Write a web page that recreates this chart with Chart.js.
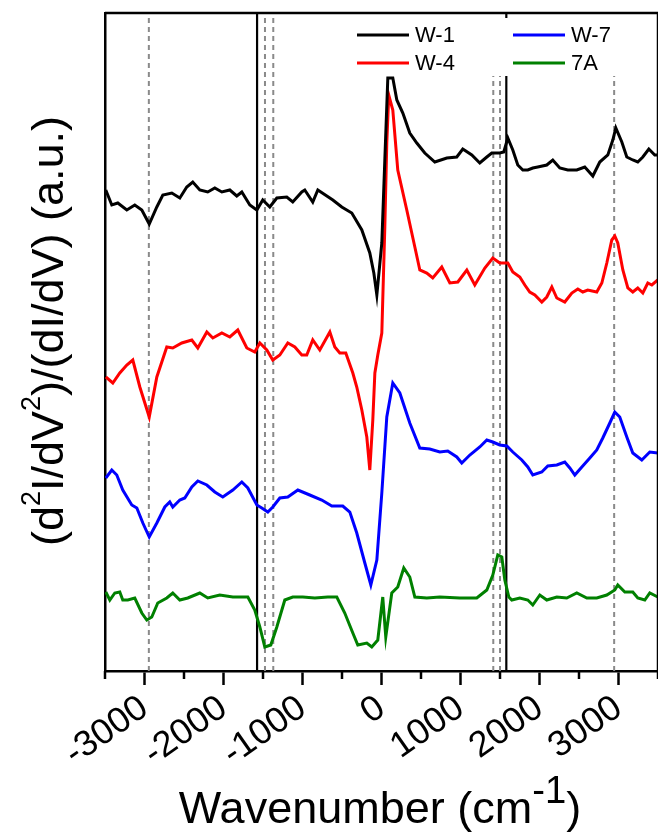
<!DOCTYPE html>
<html>
<head>
<meta charset="utf-8">
<script src="https://cdn.jsdelivr.net/npm/chart.js@4.4.1/dist/chart.umd.min.js"></script>
<style>
  html, body { margin: 0; padding: 0; background: #fff; }
  #wrap { width: 658px; height: 834px; }
</style>
</head>
<body>
<div id="wrap"><canvas id="stsChart" width="658" height="834"></canvas></div>
<script>
// Ejes
const xMin = -3500, xMax = 3500;
const yMin = 0, yMax = 6.58;
const xTickStep = 500;
const xLabelStep = 1000;

const seriesNames = ['W-1', 'W-4', 'W-7', '7A'];
const seriesColors = ['#000000', '#ff0000', '#0000ff', '#008000'];

// W-1
const w1Wave = [-3490,-3414,-3338,-3224,-3123,-3034,-2940,-2844,-2768,-2654,-2553,-2465,-2389,-2300,-2199,-2110,-2021,-1920,-1832,-1768,-1667,-1578,-1503,-1414,-1325,-1199,-1123,-1009,-971,-870,-806,-616,-503,-376,-249,-148,-97,-59,4,42,80,143,194,270,358,447,548,675,827,953,1029,1143,1244,1333,1396,1497,1548,1599,1662,1725,1789,1852,1915,1978,2092,2168,2257,2358,2472,2573,2675,2763,2865,2928,2966,3042,3105,3181,3244,3308,3384,3459,3497];
const w1Val = [4.81,4.66,4.68,4.61,4.66,4.61,4.47,4.64,4.76,4.78,4.73,4.84,4.89,4.81,4.79,4.83,4.79,4.81,4.75,4.79,4.66,4.61,4.71,4.64,4.73,4.74,4.69,4.79,4.81,4.69,4.81,4.71,4.64,4.58,4.41,4.18,3.98,3.76,4.28,5.11,5.93,5.93,5.71,5.58,5.38,5.28,5.18,5.09,5.13,5.14,5.22,5.16,5.08,5.14,5.18,5.18,5.19,5.33,5.21,5.06,5.01,5.01,5.03,5.04,5.06,5.11,5.03,5.01,5.01,5.04,4.95,5.09,5.16,5.31,5.43,5.29,5.14,5.11,5.09,5.14,5.22,5.16,5.16];

// W-4
const w4Wave = [-3490,-3401,-3313,-3224,-3148,-3059,-2940,-2844,-2718,-2642,-2528,-2401,-2325,-2211,-2135,-2021,-1920,-1819,-1705,-1604,-1540,-1452,-1376,-1287,-1186,-1097,-1009,-946,-870,-781,-654,-591,-528,-452,-363,-313,-249,-186,-148,-110,-84,-47,4,42,67,92,143,206,320,422,485,573,649,763,865,966,1080,1181,1308,1409,1497,1599,1662,1751,1814,1877,1941,2029,2092,2156,2219,2320,2409,2485,2548,2611,2725,2789,2852,2915,2953,2991,3055,3118,3181,3244,3308,3371,3422,3497];
const w4Val = [2.94,2.88,2.98,3.06,3.11,2.84,2.54,2.94,3.24,3.23,3.28,3.31,3.23,3.39,3.33,3.38,3.34,3.41,3.23,3.19,3.28,3.21,3.11,3.16,3.28,3.24,3.16,3.16,3.31,3.21,3.39,3.24,3.18,3.18,2.98,2.84,2.61,2.34,2.01,2.51,2.98,3.16,3.38,4.44,5.28,5.76,5.61,5.01,4.61,4.24,4.01,3.98,3.93,4.04,3.88,3.89,4.01,3.86,4.03,4.13,4.08,4.08,3.99,3.94,3.86,3.79,3.76,3.69,3.74,3.84,3.73,3.69,3.78,3.82,3.79,3.81,3.79,3.88,4.08,4.31,4.35,4.28,4.01,3.83,3.79,3.83,3.78,3.88,3.86,3.91];

// W-7
const w7Wave = [-3490,-3414,-3351,-3275,-3161,-3097,-3021,-2940,-2844,-2743,-2680,-2642,-2553,-2490,-2401,-2325,-2211,-2110,-2009,-1882,-1768,-1692,-1578,-1515,-1439,-1376,-1287,-1186,-1059,-908,-756,-629,-490,-401,-313,-211,-135,-59,4,67,143,232,358,485,611,738,839,953,1016,1118,1244,1333,1409,1497,1586,1662,1776,1852,1915,2029,2105,2219,2320,2384,2447,2536,2637,2725,2801,2890,2953,3016,3105,3181,3295,3396,3497];
const w7Val = [1.93,2.01,1.96,1.81,1.66,1.63,1.48,1.34,1.48,1.64,1.69,1.64,1.71,1.73,1.84,1.90,1.86,1.79,1.74,1.81,1.89,1.83,1.66,1.63,1.59,1.64,1.73,1.74,1.81,1.76,1.71,1.65,1.65,1.59,1.38,1.08,0.86,1.11,1.78,2.54,2.88,2.78,2.48,2.23,2.22,2.19,2.20,2.14,2.08,2.16,2.24,2.31,2.29,2.26,2.25,2.19,2.11,2.04,1.96,1.99,2.05,2.06,2.09,2.03,1.96,2.04,2.13,2.21,2.33,2.48,2.59,2.54,2.34,2.18,2.11,2.19,2.18];

// 7A
const aWave = [-3490,-3439,-3376,-3313,-3275,-3211,-3123,-3034,-2971,-2908,-2832,-2718,-2642,-2553,-2452,-2300,-2199,-2047,-1882,-1692,-1604,-1540,-1477,-1401,-1325,-1224,-1123,-996,-844,-680,-566,-465,-363,-300,-186,-123,-47,16,54,130,206,282,358,422,573,738,991,1206,1333,1409,1472,1523,1561,1612,1649,1751,1852,1915,2004,2092,2219,2345,2472,2599,2725,2852,2953,2991,3080,3181,3244,3333,3396,3497];
const aVal = [0.79,0.71,0.78,0.79,0.71,0.71,0.73,0.58,0.51,0.54,0.68,0.73,0.78,0.71,0.73,0.78,0.73,0.76,0.74,0.74,0.61,0.44,0.24,0.26,0.44,0.71,0.74,0.74,0.73,0.74,0.74,0.58,0.38,0.26,0.28,0.24,0.31,0.74,0.34,0.78,0.84,1.03,0.94,0.74,0.73,0.74,0.73,0.73,0.81,0.96,1.16,1.14,0.91,0.74,0.71,0.73,0.71,0.66,0.76,0.71,0.74,0.73,0.78,0.73,0.73,0.76,0.81,0.86,0.79,0.79,0.73,0.71,0.78,0.74];

// Líneas de referencia verticales
const solidLines = [-1575, 1580];
const dashedLines = [-2945, -1475, -1370, 1415, 1500, 2945];

const fontFamily = '"Liberation Sans", Arial, Helvetica, sans-serif';

function toPoints(xs, ys) {
    const n = Math.min(xs.length, ys.length);
    const pts = [];
    for (let i = 0; i < n; i++) pts.push({ x: xs[i], y: ys[i] });
    return pts;
}

const seriesData = [
    toPoints(w1Wave, w1Val),
    toPoints(w4Wave, w4Val),
    toPoints(w7Wave, w7Val),
    toPoints(aWave, aVal)
];

const datasets = [];
seriesNames.forEach(function(name, i) {
    datasets.push({
        label: name,
        data: seriesData[i],
        borderColor: seriesColors[i],
        borderWidth: 3,
        pointRadius: 0,
        tension: 0,
        order: 1
    });
});
solidLines.forEach(function(v) {
    datasets.push({
        label: '_solid',
        data: [{ x: v, y: yMin }, { x: v, y: yMax }],
        borderColor: '#000000',
        borderWidth: 2.2,
        pointRadius: 0,
        order: 5
    });
});
dashedLines.forEach(function(v) {
    datasets.push({
        label: '_dash',
        data: [{ x: v, y: yMin }, { x: v, y: yMax }],
        borderColor: '#8a8a8a',
        borderWidth: 2,
        borderDash: [5, 4],
        pointRadius: 0,
        order: 6
    });
});

// Dibuja texto con superíndices: runs = [[texto, esSup], ...]
function drawRuns(ctx, runs, size, supScale, supRise) {
    const widths = runs.map(function(r) {
        ctx.font = (r[1] ? size * supScale : size) + 'px ' + fontFamily;
        return ctx.measureText(r[0]).width;
    });
    const total = widths.reduce(function(a, b) { return a + b; }, 0);
    let x = -total / 2;
    runs.forEach(function(r, i) {
        ctx.font = (r[1] ? size * supScale : size) + 'px ' + fontFamily;
        ctx.fillText(r[0], x, r[1] ? -size * supRise : 0);
        x += widths[i];
    });
}

const decorPlugin = {
    id: 'decor',
    afterDraw: function(chart) {
        const ctx = chart.ctx;
        const a = chart.chartArea;
        const xs = chart.scales.x;
        ctx.save();
        // marco superior y derecho
        ctx.strokeStyle = '#000';
        ctx.lineWidth = 2.5;
        ctx.beginPath();
        ctx.moveTo(a.left, a.top);
        ctx.lineTo(a.right, a.top);
        ctx.lineTo(a.right, a.bottom);
        ctx.stroke();

        // marcas menores del eje x
        ctx.lineWidth = 2.5;
        xs.ticks.forEach(function(t) {
            if (t.value % xLabelStep === 0) return;
            const px = Math.round(xs.getPixelForValue(t.value));
            ctx.beginPath();
            ctx.moveTo(px, a.bottom);
            ctx.lineTo(px, a.bottom + 8);
            ctx.stroke();
        });

        // leyenda
        ctx.fillStyle = '#fff';
        ctx.fillRect(345, 18, 295, 58);
        const cols = [357, 513];
        const rows = [35, 63];
        const slot = [[0, 0], [0, 1], [1, 0], [1, 1]];
        ctx.font = '22px ' + fontFamily;
        ctx.textBaseline = 'middle';
        ctx.textAlign = 'left';
        seriesNames.forEach(function(name, i) {
            const x = cols[slot[i][0]], y = rows[slot[i][1]];
            ctx.strokeStyle = seriesColors[i];
            ctx.lineWidth = 3;
            ctx.beginPath();
            ctx.moveTo(x, y);
            ctx.lineTo(x + 52, y);
            ctx.stroke();
            ctx.fillStyle = '#000';
            ctx.fillText(name, x + 58, y + 1);
        });

        // títulos de ejes
        ctx.fillStyle = '#000';
        ctx.textBaseline = 'alphabetic';
        ctx.textAlign = 'left';
        ctx.save();
        ctx.translate(380, 823);
        drawRuns(ctx, [['Wavenumber (cm', false], ['-1', true], [')', false]], 45, 0.85, 0.45);
        ctx.restore();
        ctx.save();
        ctx.translate(63, 331);
        ctx.rotate(-Math.PI / 2);
        drawRuns(ctx, [['(d', false], ['2', true], ['I/dV', false], ['2', true], [')/(dI/dV) (a.u.)', false]], 45, 0.6, 0.52);
        ctx.restore();
        ctx.restore();
    }
};

const ctx = document.getElementById('stsChart').getContext('2d');
const chart = new Chart(ctx, {
    type: 'line',
    data: { datasets: datasets },
    options: {
        responsive: false,
        animation: false,
        devicePixelRatio: 1,
        layout: { padding: { top: 13, right: 0, left: 0, bottom: 0 } },
        plugins: {
            legend: { display: false },
            tooltip: { enabled: false }
        },
        scales: {
            x: {
                type: 'linear',
                min: xMin,
                max: xMax,
                ticks: {
                    stepSize: xTickStep,
                    autoSkip: false,
                    minRotation: 35,
                    maxRotation: 35,
                    padding: 2,
                    color: '#000',
                    font: { family: fontFamily, size: 36 },
                    callback: function(value) {
                        return value % xLabelStep === 0 ? String(value) : '';
                    }
                },
                grid: {
                    display: true,
                    drawOnChartArea: false,
                    drawTicks: true,
                    tickLength: 14,
                    tickWidth: 2.5,
                    tickColor: function(c) {
                        return (c.tick && c.tick.value % xLabelStep !== 0) ? 'rgba(0,0,0,0)' : '#000';
                    }
                },
                border: { display: true, color: '#000', width: 2.5 },
                afterFit: function(scale) {
                    scale.height = 163;
                    scale.paddingLeft = 0;
                    scale.paddingRight = 0;
                }
            },
            y: {
                min: yMin,
                max: yMax,
                ticks: { display: false },
                grid: { display: false },
                border: { display: true, color: '#000', width: 2.5 },
                afterFit: function(scale) { scale.width = 105; }
            }
        }
    },
    plugins: [decorPlugin]
});
</script>
</body>
</html>
